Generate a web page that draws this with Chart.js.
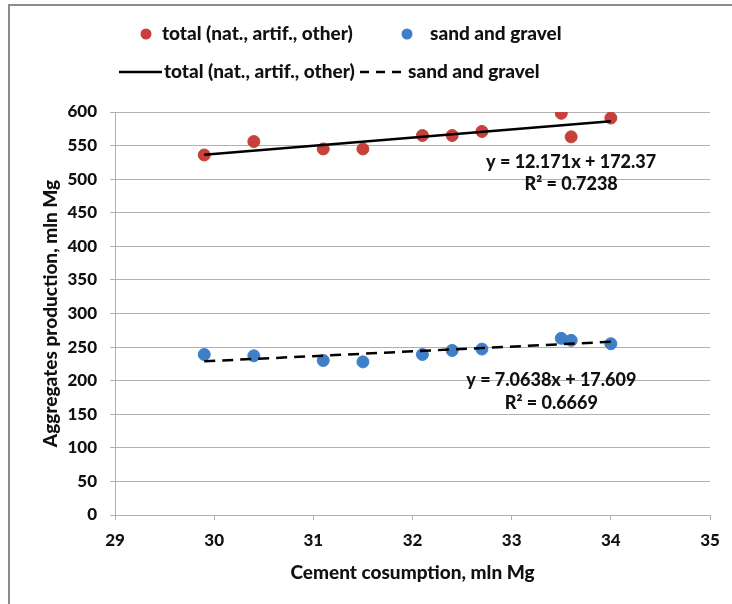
<!DOCTYPE html>
<html>
<head>
<meta charset="utf-8">
<script src="https://cdn.jsdelivr.net/npm/chart.js@4"></script>
<style>
  html, body { margin: 0; padding: 0; background: #fff; }
  #marco { position: absolute; left: 0; top: 0; width: 732px; height: 604px; overflow: hidden; }
  #borde { position: absolute; left: 8px; top: 4px; width: 800px; height: 700px;
           border-top: 2px solid #8c8c8c; border-left: 2px solid #8c8c8c; }
  canvas { position: absolute; left: 0; top: 0; }
</style>
</head>
<body>
<div id="marco">
  <div id="borde"></div>
  <canvas id="grafica" width="732" height="604"></canvas>
</div>
<script>
// datos
const consumoCemento = [29.9, 30.4, 31.1, 31.5, 32.1, 32.4, 32.7, 33.5, 33.6, 34.0];
const produccionTotal = [536, 556, 545, 545, 565, 565, 571, 598, 563, 591];
const arenaGrava = [239, 237, 230, 228, 239, 245, 247, 263, 260, 255];

// extremos de las lineas de tendencia
const tendenciaX = [29.9, 34.0];
const tendenciaTotal = [536.3, 586.2];
const tendenciaArena = [228.8, 257.8];

const etiquetaTotal = 'total (nat., artif., other)';
const etiquetaArena = 'sand and gravel';
const ecuacionTotal = ['y = 12.171x + 172.37', 'R² = 0.7238'];
const ecuacionArena = ['y = 7.0638x + 17.609', 'R² = 0.6669'];
const tituloY = 'Aggregates production, mln Mg';

const rojo = '#c8403a';
const azul = '#3f7fc8';
const gris = '#b0b0b0';
const fuente = 'Lato, "Open Sans", sans-serif';
const peso = '900';

const puntos = (xs, ys) => xs.map((x, i) => ({ x: x, y: ys[i] }));

// leyenda, ecuaciones y titulo del eje y dibujados a mano
const extras = {
  id: 'extras',
  afterDraw(chart) {
    const ctx = chart.ctx;
    const sx = chart.scales.x, sy = chart.scales.y;
    const area = chart.chartArea;
    ctx.save();
    ctx.fillStyle = '#111';
    ctx.textBaseline = 'middle';

    // titulo eje y
    ctx.save();
    ctx.font = peso + ' 19px ' + fuente;
    ctx.textAlign = 'center';
    ctx.translate(51, (area.top + area.bottom) / 2);
    ctx.rotate(-Math.PI / 2);
    ctx.fillText(tituloY, 0, 0);
    ctx.restore();

    // ecuaciones
    ctx.font = peso + ' 18px ' + fuente;
    ctx.textAlign = 'center';
    ctx.fillText(ecuacionTotal[0], sx.getPixelForValue(33.6), sy.getPixelForValue(525));
    ctx.fillText(ecuacionTotal[1], sx.getPixelForValue(33.6), sy.getPixelForValue(492));
    ctx.fillText(ecuacionArena[0], sx.getPixelForValue(33.4), sy.getPixelForValue(200));
    ctx.fillText(ecuacionArena[1], sx.getPixelForValue(33.4), sy.getPixelForValue(166));

    // leyenda fila 1
    ctx.font = peso + ' 19px ' + fuente;
    ctx.textAlign = 'left';
    ctx.fillStyle = rojo;
    ctx.beginPath(); ctx.arc(146, 34, 5.5, 0, Math.PI * 2); ctx.fill();
    ctx.fillStyle = azul;
    ctx.beginPath(); ctx.arc(407, 34, 5.5, 0, Math.PI * 2); ctx.fill();
    ctx.fillStyle = '#111';
    ctx.fillText(etiquetaTotal, 162, 34);
    ctx.fillText(etiquetaArena, 430, 34);

    // leyenda fila 2
    ctx.strokeStyle = '#000';
    ctx.lineWidth = 2.5;
    ctx.beginPath(); ctx.moveTo(119, 72); ctx.lineTo(162, 72); ctx.stroke();
    ctx.setLineDash([9, 7]);
    ctx.beginPath(); ctx.moveTo(360, 72); ctx.lineTo(405, 72); ctx.stroke();
    ctx.setLineDash([]);
    ctx.fillText(etiquetaTotal, 164, 72);
    ctx.fillText(etiquetaArena, 408, 72);
    ctx.restore();
  }
};

new Chart(document.getElementById('grafica'), {
  type: 'scatter',
  data: {
    datasets: [
      {
        label: etiquetaTotal + ' trend',
        data: puntos(tendenciaX, tendenciaTotal),
        showLine: true,
        borderColor: '#000',
        borderWidth: 2.5,
        pointRadius: 0,
        order: 0
      },
      {
        label: etiquetaArena + ' trend',
        data: puntos(tendenciaX, tendenciaArena),
        showLine: true,
        borderColor: '#000',
        borderWidth: 2.5,
        borderDash: [11, 7],
        pointRadius: 0,
        order: 0
      },
      {
        label: etiquetaTotal,
        data: puntos(consumoCemento, produccionTotal),
        backgroundColor: rojo,
        borderColor: rojo,
        pointRadius: 6,
        order: 1
      },
      {
        label: etiquetaArena,
        data: puntos(consumoCemento, arenaGrava),
        backgroundColor: azul,
        borderColor: azul,
        pointRadius: 6,
        order: 1
      }
    ]
  },
  options: {
    responsive: false,
    animation: false,
    layout: { padding: { left: 0, top: 112, right: 22, bottom: 0 } },
    plugins: {
      legend: { display: false },
      tooltip: { enabled: false }
    },
    scales: {
      x: {
        type: 'linear',
        min: 29,
        max: 35,
        afterFit: (s) => { s.height = 89; },
        ticks: { stepSize: 1, padding: 10, color: '#111', font: { family: fuente, size: 17, weight: peso } },
        grid: { drawOnChartArea: false, drawTicks: true, tickLength: 5, color: gris },
        border: { color: gris },
        title: {
          display: true,
          text: 'Cement cosumption, mln Mg',
          color: '#111',
          font: { family: fuente, size: 19, weight: peso },
          padding: { top: 0, bottom: 20 }
        }
      },
      y: {
        min: 0,
        max: 600,
        afterFit: (s) => { s.width = 115; },
        ticks: { stepSize: 50, padding: 13, color: '#111', font: { family: fuente, size: 17, weight: peso } },
        grid: { color: gris, tickLength: 5 },
        border: { color: gris }
      }
    }
  },
  plugins: [extras]
});
</script>
</body>
</html>
